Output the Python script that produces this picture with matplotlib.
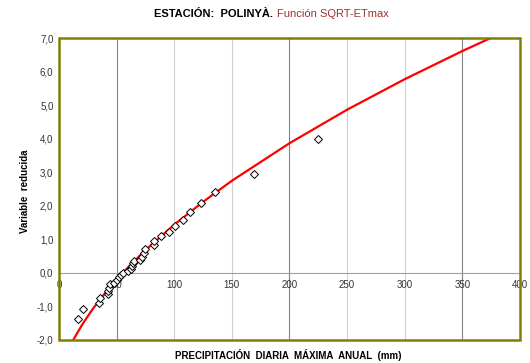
import matplotlib
matplotlib.use("Agg")
import matplotlib.pyplot as plt
from matplotlib.patches import Rectangle

plt.rcParams['font.family'] = ['Liberation Sans', 'DejaVu Sans']

# datos observados (precipitacion, variable reducida)
precip = [16.2, 20.5, 35.0, 35.3, 42.3, 42.3, 43.2, 44.3, 48.0, 50.4,
          52.0, 53.8, 55.8, 59.8, 62.2, 63.1, 64.2, 65.4, 70.3, 72.0,
          73.4, 74.3, 82.2, 82.2, 88.7, 95.4, 100.6, 107.2, 113.8, 123.2,
          135.2, 169.0, 224.4]
var_red = [-1.38, -1.08, -0.91, -0.76, -0.64, -0.54, -0.46, -0.34, -0.31, -0.21,
           -0.13, -0.06, -0.01, 0.07, 0.12, 0.21, 0.30, 0.35, 0.40, 0.49,
           0.59, 0.72, 0.82, 0.96, 1.09, 1.23, 1.40, 1.59, 1.81, 2.08,
           2.41, 2.95, 3.99]

# curva SQRT-ETmax
curva_x = [12.4, 15, 20, 25, 30, 40, 50, 60, 75, 100, 125, 150, 200, 250, 300, 350, 374]
curva_y = [-2.0, -1.84, -1.55, -1.29, -1.04, -0.60, -0.20, 0.17, 0.68, 1.44,
           2.12, 2.75, 3.87, 4.87, 5.78, 6.62, 7.0]

x_ticks = [0, 50, 100, 150, 200, 250, 300, 350, 400]
y_ticks = [-2, -1, 0, 1, 2, 3, 4, 5, 6, 7]
y_labels = ['-2,0', '-1,0', '0,0', '1,0', '2,0', '3,0', '4,0', '5,0', '6,0', '7,0']
grid_dark = [50, 200, 350]
grid_light = [100, 150, 250, 300]

olive = '#808000'

fig = plt.figure(figsize=(5.3, 3.63), dpi=100)
ax = fig.add_axes([0.1113, 0.0634, 0.8698, 0.8311])

for g in grid_light:
    ax.axvline(g, color='#d0d0d0', lw=0.8, zorder=1)
for g in grid_dark:
    ax.axvline(g, color='#808080', lw=0.8, zorder=1)

ax.plot(curva_x, curva_y, color='red', lw=1.6, zorder=3)
ax.plot(precip, var_red, linestyle='none', marker='D', ms=4,
        mfc='white', mec='black', mew=0.7, zorder=4)

ax.set_xlim(0, 400)
ax.set_ylim(-2, 7)
ax.set_xticks(x_ticks)
ax.set_xticklabels([str(v) for v in x_ticks])
ax.set_yticks(y_ticks)
ax.set_yticklabels(y_labels)

# eje x cruzando en 0
ax.spines['bottom'].set_position(('data', 0))
ax.spines['bottom'].set_color('#a0a0a0')
ax.spines['bottom'].set_linewidth(0.8)
for s in ['top', 'right', 'left']:
    ax.spines[s].set_visible(False)
ax.add_patch(Rectangle((0, 0), 1, 1, transform=ax.transAxes, fill=False,
                       ec=olive, lw=1.8, clip_on=False, zorder=5))

ax.tick_params(axis='both', length=0, labelsize=7, colors='#333333')
ax.tick_params(axis='x', pad=5)
ax.tick_params(axis='y', pad=4)

fig.text(0.516, 0.961, 'ESTACIÓN:  POLINYÀ.', ha='right', va='center',
         fontsize=8, fontweight='bold', color='black')
fig.text(0.522, 0.961, 'Función SQRT-ETmax', ha='left', va='center',
         fontsize=8, color='#993333')
fig.text(0.543, 0.022, 'PRECIPITACIÓN  DIARIA  MÁXIMA  ANUAL  (mm)', ha='center',
         va='center', fontsize=7, fontweight='bold')
fig.text(0.047, 0.4725, 'Variable  reducida', ha='center', va='center',
         rotation=90, fontsize=7, fontweight='bold')

fig.savefig('out.png', dpi=100)
